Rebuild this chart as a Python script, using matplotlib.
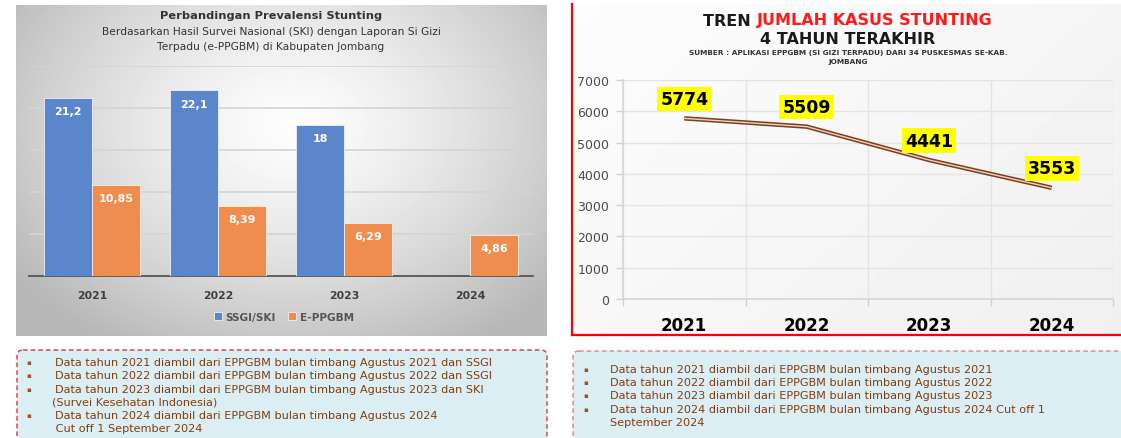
import matplotlib.pyplot as plt
import numpy as np
from matplotlib.patches import FancyBboxPatch

W, H = 1121, 439

# data
tahun = ['2021', '2022', '2023', '2024']
ssgi_ski = [21.2, 22.1, 18.0, np.nan]
e_ppgbm = [10.85, 8.39, 6.29, 4.86]
jumlah_kasus = [5774, 5509, 4441, 3553]

catatan_kiri = [
    ('\u25aa', 'Data tahun 2021 diambil dari EPPGBM bulan timbang Agustus 2021 dan SSGI'),
    ('\u25aa', 'Data tahun 2022 diambil dari EPPGBM bulan timbang Agustus 2022 dan SSGI'),
    ('\u25aa', 'Data tahun 2023 diambil dari EPPGBM bulan timbang Agustus 2023 dan SKI'),
    ('', '(Survei Kesehatan Indonesia)'),
    ('\u25aa', 'Data tahun 2024 diambil dari EPPGBM bulan timbang Agustus 2024'),
    ('', ' Cut off 1 September 2024'),
]
catatan_kanan = [
    ('\u25aa', 'Data tahun 2021 diambil dari EPPGBM bulan timbang Agustus 2021'),
    ('\u25aa', 'Data tahun 2022 diambil dari EPPGBM bulan timbang Agustus 2022'),
    ('\u25aa', 'Data tahun 2023 diambil dari EPPGBM bulan timbang Agustus 2023'),
    ('\u25aa', 'Data tahun 2024 diambil dari EPPGBM bulan timbang Agustus 2024 Cut off 1'),
    ('', 'September 2024'),
]


def px(x0, y0, x1, y1):
    # pixel box (top-left origin) -> figure fraction
    return [x0 / W, 1 - y1 / H, (x1 - x0) / W, (y1 - y0) / H]


fig = plt.figure(figsize=(W / 100, H / 100), dpi=100)
fig.patch.set_facecolor('white')

bg = fig.add_axes([0, 0, 1, 1], zorder=0)
bg.axis('off')

# left panel: grey radial gradient
yy, xx = np.mgrid[0:331, 0:531]
d = np.sqrt(((xx - 275) / 320.0) ** 2 + ((yy - 120) / 240.0) ** 2)
g = np.clip(0.99 - 0.25 * d ** 1.4, 0.72, 1)
bg.imshow(g, cmap='gray', vmin=0, vmax=1, extent=(16, 547, 337, 6),
          aspect='auto', interpolation='bilinear')

# right panel: very light background
yy2, xx2 = np.mgrid[0:331, 0:549]
g2 = 0.99 - 0.03 * (xx2 / 549.0) - 0.02 * (yy2 / 331.0)
bg.imshow(g2, cmap='gray', vmin=0, vmax=1, extent=(572, 1121, 336, 5),
          aspect='auto')
bg.plot([572, 572], [5, 336], color='#ff0000', lw=1.6)
bg.plot([572, 1121], [336, 336], color='#ff0000', lw=1.6)

# bottom note boxes
bg.add_patch(FancyBboxPatch((17, 351), 530, 100, boxstyle='round,pad=0,rounding_size=6',
                            fc='#dbeef4', ec='#d9454f', lw=1.1, ls=(0, (3, 2))))
bg.add_patch(FancyBboxPatch((573, 352), 560, 100, boxstyle='round,pad=0,rounding_size=6',
                            fc='#dbeef4', ec='#e08a90', lw=1.1, ls=(0, (3, 2))))

bg.set_xlim(0, W)
bg.set_ylim(H, 0)

teks = '#843c0c'
for i, (b, s) in enumerate(catatan_kiri):
    y = 363 + i * 13.3
    if b:
        bg.text(29, y, b, fontsize=5, color='#a05020', va='center', ha='center')
    bg.text(55 if b else 52, y, s, fontsize=8.1, color=teks, va='center', ha='left')
for i, (b, s) in enumerate(catatan_kanan):
    y = 370 + i * 13.2
    if b:
        bg.text(586, y, b, fontsize=5, color='#a05020', va='center', ha='center')
    bg.text(610, y, s, fontsize=8.1, color=teks, va='center', ha='left')

# left chart titles
bg.text(271, 16, 'Perbandingan Prevalensi Stunting', fontsize=8.2, fontweight='bold',
        color='#333333', ha='center', va='center')
bg.text(271, 32, 'Berdasarkan Hasil Survei Nasional (SKI) dengan Laporan Si Gizi',
        fontsize=7.7, color='#333333', ha='center', va='center')
bg.text(271, 47, 'Terpadu (e-PPGBM) di Kabupaten Jombang',
        fontsize=7.7, color='#333333', ha='center', va='center')

# ---- left bar chart ----
ax = fig.add_axes(px(29, 67, 533, 277), zorder=2)
ax.set_facecolor('none')
x = np.arange(len(tahun))
bw = 0.38
b1 = ax.bar(x - bw / 2, ssgi_ski, bw, color='#5b86cc', edgecolor='#f0f0f0', lw=0.6,
            label='SSGI/SKI', zorder=3)
b2 = ax.bar(x + bw / 2, e_ppgbm, bw, color='#ef8c4e', edgecolor='#f0f0f0', lw=0.6,
            label='E-PPGBM', zorder=3)
for bars, vals in ((b1, ssgi_ski), (b2, e_ppgbm)):
    for r, v in zip(bars, vals):
        if np.isnan(v):
            continue
        ax.annotate(f'{v:g}'.replace('.', ','), (r.get_x() + r.get_width() / 2, v),
                    xytext=(0, -9.5), textcoords='offset points', ha='center', va='center',
                    fontsize=8, fontweight='bold', color='white', zorder=4)
ax.set_ylim(0, 25)
ax.set_xlim(-0.5, 3.5)
ax.set_yticks([5, 10, 15, 20, 25])
ax.grid(axis='y', color='#d4d4d4', lw=1.2, zorder=0)
ax.set_xticks(x)
ax.set_xticklabels(tahun, fontsize=7.8, fontweight='bold', color='#404040')
ax.tick_params(axis='x', length=0, pad=10)
ax.tick_params(axis='y', length=0, labelleft=False)
for s in ['top', 'right', 'left']:
    ax.spines[s].set_visible(False)
ax.spines['bottom'].set_color('#555555')
ax.spines['bottom'].set_linewidth(1.3)
ax.legend(loc='center', bbox_to_anchor=(284 / W, 1 - 318 / H), bbox_transform=fig.transFigure,
          ncol=2, frameon=False, handlelength=0.75, handleheight=0.75, handletextpad=0.3,
          columnspacing=1.2, prop={'size': 7.6, 'weight': 'bold'}, labelcolor='#555555')

# ---- right line chart ----
ax2 = fig.add_axes(px(623, 81, 1113, 300), zorder=2)
ax2.set_facecolor('none')
ax2.plot(x, jumlah_kasus, color='#7d3e1e', lw=3.2, solid_capstyle='butt', zorder=3)
ax2.plot(x, jumlah_kasus, color='#ecd3c3', lw=1.0, solid_capstyle='butt', zorder=4)
for xi, v in zip(x, jumlah_kasus):
    ax2.annotate(str(v), (xi, v), xytext=(0, 14), textcoords='offset points',
                 ha='center', va='center', fontsize=12.5, fontweight='bold', color='black',
                 bbox=dict(boxstyle='square,pad=0.18', fc='#ffff00', ec='none'), zorder=5)
ax2.set_xlim(-0.5, 3.5)
ax2.set_ylim(0, 7000)
ax2.set_yticks(np.arange(0, 7001, 1000))
ax2.set_yticklabels([str(v) for v in range(0, 7001, 1000)], fontsize=9, color='#4a4a4a')
ax2.set_xticks(x)
ax2.set_xticklabels(tahun, fontsize=12, fontweight='bold', color='black')
ax2.set_xticks([-0.5, 0.5, 1.5, 2.5, 3.5], minor=True)
ax2.tick_params(axis='x', which='major', length=0, pad=12)
ax2.tick_params(axis='x', which='minor', length=5, color='#d0d0d0', width=1)
ax2.tick_params(axis='y', length=5, color='#d0d0d0', width=1, pad=5)
ax2.grid(axis='y', color='#e4e4e4', lw=1)
ax2.grid(axis='x', which='minor', color='#e4e4e4', lw=1)
for s in ['top', 'right']:
    ax2.spines[s].set_visible(False)
ax2.spines['left'].set_color('#d6d6d6')
ax2.spines['bottom'].set_color('#d6d6d6')
ax2.spines['left'].set_linewidth(1.2)
ax2.spines['bottom'].set_linewidth(1.2)

# right chart titles: "TREN " black + red part, centred together
fig.canvas.draw()
r = fig.canvas.get_renderer()
t1 = bg.text(0, 21, 'TREN ', fontsize=11.5, fontweight='bold', color='#1a1a1a', va='center')
t2 = bg.text(0, 21, 'JUMLAH KASUS STUNTING', fontsize=11.5, fontweight='bold',
             color='#ff1a1a', va='center')
w1 = t1.get_window_extent(r).width
w2 = t2.get_window_extent(r).width
x0 = 848 - (w1 + w2) / 2
t1.set_x(x0)
t2.set_x(x0 + w1)
bg.text(848, 40, '4 TAHUN TERAKHIR', fontsize=11.5, fontweight='bold', color='#1a1a1a',
        ha='center', va='center')
bg.text(848, 53, 'SUMBER : APLIKASI EPPGBM (SI GIZI TERPADU) DARI 34 PUSKESMAS SE-KAB.',
        fontsize=5.3, fontweight='bold', color='#333333', ha='center', va='center')
bg.text(848, 62, 'JOMBANG', fontsize=5.3, fontweight='bold', color='#333333',
        ha='center', va='center')

fig.savefig('out.png', dpi=100)
